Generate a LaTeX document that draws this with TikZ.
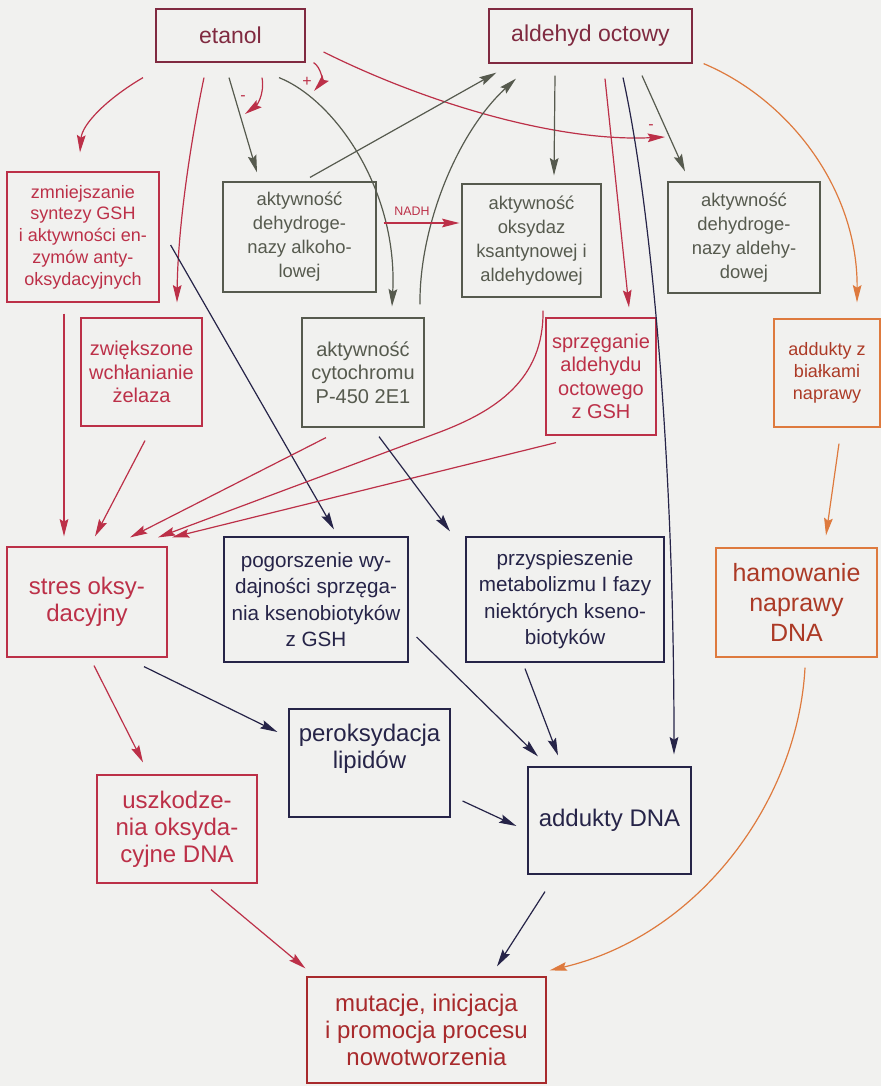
\documentclass[tikz,border=0pt]{standalone}
\usepackage{fontspec}
\setmainfont{Liberation Sans}
\usepackage{tikz}
\usetikzlibrary{arrows.meta,calc}
\definecolor{bgc}{RGB}{241,241,239}
\definecolor{maroonc}{RGB}{128,42,64}
\definecolor{redc}{RGB}{188,48,72}
\definecolor{grayc}{RGB}{86,90,78}
\definecolor{navyc}{RGB}{38,36,72}
\definecolor{orangec}{RGB}{222,122,62}
\definecolor{brownc}{RGB}{172,58,38}
\definecolor{mutc}{RGB}{168,42,44}

\begin{document}
\begin{tikzpicture}[x=0.75pt,y=0.75pt,yscale=-1,xscale=1,
  box/.style={draw,line width=0.9pt,inner sep=0pt,align=center},
  arr/.style={line width=0.9pt,-{Stealth[length=13pt,width=6.5pt,inset=2pt]}},
  fhead/.style={font=\fontsize{17.25}{20}\selectfont},
  ftop/.style={font=\fontsize{13.8}{18}\selectfont},
  fleft/.style={font=\fontsize{13.5}{16.3}\selectfont},
  fmid/.style={font=\fontsize{15}{17.6}\selectfont},
  fmidb/.style={font=\fontsize{15.5}{19.9}\selectfont},
  fbig/.style={font=\fontsize{18}{20.3}\selectfont},
  fham/.style={font=\fontsize{18.75}{22.5}\selectfont}]
%set diagram left start at 0, and has height of 1086
\fill [bgc] (0,0) rectangle (881,1086);
\useasboundingbox (0,0) rectangle (881,1086);

% Text Node
\node [box,fhead,draw=maroonc,text=maroonc,minimum width=111.75pt,minimum height=39.75pt] (etanol) at (230.5,35.5) {etanol};
% Text Node
\node [box,fhead,draw=maroonc,text=maroonc,minimum width=152.25pt,minimum height=40.5pt] (aldehyd) at (590.5,36) {aldehyd octowy};
% Text Node
\node [box,fleft,draw=redc,text=redc,minimum width=114pt,minimum height=97.5pt] (zmn) at (83,237) {zmniejszanie\\syntezy GSH\\i aktywności en-\\zymów anty-\\oksydacyjnych};
% Text Node
\node [box,ftop,draw=grayc,text=grayc,minimum width=114.75pt,minimum height=82.5pt] (adh) at (299.5,237) {aktywność\\dehydroge-\\nazy alkoho-\\lowej};
% Text Node
\node [box,ftop,draw=grayc,text=grayc,minimum width=104.25pt,minimum height=84.75pt] (oks) at (531.5,240.5) {aktywność\\oksydaz\\ksantynowej i\\aldehydowej};
% Text Node
\node [box,ftop,draw=grayc,text=grayc,minimum width=114pt,minimum height=83.25pt] (aldh) at (744,237.5) {aktywność\\dehydroge-\\nazy aldehy-\\dowej};
% Text Node
\node [box,fmid,draw=redc,text=redc,minimum width=90.75pt,minimum height=81pt] (zwi) at (141.5,372) {zwiększone\\wchłanianie\\żelaza};
% Text Node
\node [box,fmid,draw=grayc,text=grayc,minimum width=91.5pt,minimum height=81.75pt] (cyt) at (363,372.5) {aktywność\\cytochromu\\P-450 2E1};
% Text Node
\node [box,fmid,draw=redc,text=redc,minimum width=82.5pt,minimum height=87.75pt] (sprz) at (601,376.5) {sprzęganie\\aldehydu\\octowego\\z GSH};
% Text Node
\node [box,fleft,draw=orangec,text=brownc,minimum width=79.5pt,minimum height=81pt] (adb) at (827,373) {addukty z\\białkami\\naprawy};
% Text Node
\node [box,fbig,draw=redc,text=redc,minimum width=120pt,minimum height=82.5pt] (stres) at (87,602) {stres oksy-\\dacyjny};
% Text Node
\node [box,fmidb,draw=navyc,text=navyc,minimum width=138pt,minimum height=93.75pt] (pog) at (316,599.5) {pogorszenie wy-\\dajności sprzęga-\\nia ksenobiotyków\\z GSH};
% Text Node
\node [box,fmidb,draw=navyc,text=navyc,minimum width=148.5pt,minimum height=93.75pt] (prz) at (565,599.5) {przyspieszenie\\metabolizmu I fazy\\niektórych kseno-\\biotyków};
% Text Node
\node [box,fham,draw=orangec,text=brownc,minimum width=120.75pt,minimum height=81.75pt] (ham) at (796.5,602.5) {hamowanie\\naprawy\\DNA};
% Text Node
\node [box,fbig,draw=navyc,text=navyc,minimum width=120.75pt,minimum height=81pt] (per) at (369.5,763) {peroksydacja\\lipidów\\[5pt]};
% Text Node
\node [box,fbig,draw=redc,text=redc,minimum width=120pt,minimum height=81pt] (usz) at (177,829) {uszkodze-\\nia oksyda-\\cyjne DNA};
% Text Node
\node [box,fbig,draw=navyc,text=navyc,minimum width=122.25pt,minimum height=80.25pt] (add) at (609.5,820.5) {addukty DNA};
% Text Node
\node [box,fbig,draw=mutc,text=mutc,minimum width=179.25pt,minimum height=79.5pt] (mut) at (426.5,1030) {mutacje, inicjacja\\i promocja procesu\\nowotworzenia};

% Text Node
\node [text=redc,font=\fontsize{9.3}{11}\selectfont,inner sep=0.75pt] (nadh) at (412,211) {NADH};
% Text Node
\node [text=redc,font=\fontsize{12}{12}\selectfont,inner sep=0.75pt] (minA) at (243,98) {-};
% Text Node
\node [text=redc,font=\fontsize{12}{12}\selectfont,inner sep=0.75pt] (plusA) at (307,82) {+};
% Text Node
\node [text=redc,font=\fontsize{12}{12}\selectfont,inner sep=0.75pt] (minB) at (651,127) {-};
\coordinate (tipA) at (245,114);
\coordinate (tipB) at (314,91);
\coordinate (tipC) at (665,137);

%Curve Lines
\draw [arr,redc] ($(etanol.south)+(-87.5,15)$) .. controls (105,100) and (82,125) .. ($(zmn.north)+(-3,-19)$) ;
%Curve Lines
\draw [arr,redc] ($(etanol.south)+(-26.5,15)$) .. controls (193,130) and (178,220) .. ($(zwi.north)+(35.5,-15)$) ;
%Straight Lines
\draw [arr,grayc] ($(etanol.south)+(-1.5,15)$) -- ($(adh.north)+(-42.5,-9)$) ;
%Curve Lines
\draw [arr,redc] ($(etanol.south)+(31.5,15)$) .. controls (265,95) and (256,106) .. (tipA) ;
%Curve Lines
\draw [arr,redc] ($(etanol.south east)+(8,0)$) .. controls (322,68) and (322,82) .. (tipB) ;
%Curve Lines
\draw [arr,grayc] ($(etanol.south)+(48.5,15)$) .. controls (335,100) and (398,190) .. ($(cyt.north)+(29,-11)$) ;
%Curve Lines
\draw [arr,redc] ($(etanol.east)+(18,16.5)$) .. controls (430,105) and (560,142) .. (tipC) ;
%Straight Lines
\draw [arr,grayc] ($(adh.north)+(10.5,-4)$) -- ($(aldehyd.south west)+(8,9)$) ;
%Curve Lines
\draw [arr,grayc] ($(cyt.north)+(57,-13)$) .. controls (419,230) and (455,135) .. ($(aldehyd.south)+(-74.5,15)$) ;
%Straight Lines
\draw [arr,redc] ($(adh.east)+(7,-14)$) -- ($(oks.west)+(-2,-17.5)$) ;
%Straight Lines
\draw [arr,grayc] ($(aldehyd.south)+(-35.5,12)$) -- ($(oks.north)+(22.5,-8)$) ;
%Straight Lines
\draw [arr,redc] ($(aldehyd.south)+(14.5,15)$) -- ($(sprz.north)+(28,-10)$) ;
%Curve Lines
\draw [arr,navyc] ($(aldehyd.south)+(32.5,14)$) .. controls (650,200) and (674,450) .. ($(add.north)+(64.5,-12)$) ;
%Straight Lines
\draw [arr,grayc] ($(aldehyd.south)+(51.5,12)$) -- ($(aldh.north)+(-59,-10)$) ;
%Curve Lines
\draw [arr,orangec] ($(aldehyd.south east)+(11,0)$) .. controls (790,100) and (858,190) .. ($(adb.north)+(30,-16)$) ;

%Straight Lines
\draw [arr,redc] ($(zmn.south)+(-19,11)$) -- ($(stres.north)+(-23,-10)$) ;
%Straight Lines
\draw [arr,navyc] ($(zmn.east)+(11,8)$) -- ($(pog.north)+(18,-7)$) ;
%Straight Lines
\draw [arr,redc] ($(zwi.south)+(3.5,14)$) -- ($(stres.north)+(8,-10)$) ;
%Straight Lines
\draw [arr,redc] ($(cyt.south)+(-37,10)$) -- ($(stres.north)+(43,-9)$) ;
%Curve Lines
\draw [arr,redc] ($(oks.south)+(11.5,13)$) .. controls (544,380) and (495,411) .. (440,432) -- ($(stres.north)+(71,-9)$) ;
%Straight Lines
\draw [arr,redc] ($(sprz.south)+(-45,7)$) -- ($(stres.north)+(85,-9)$) ;
%Straight Lines
\draw [arr,navyc] ($(cyt.south)+(16,9)$) -- ($(prz.north)+(-115,-5)$) ;
%Straight Lines
\draw [arr,orangec] ($(adb.south)+(12,16)$) -- ($(ham.north)+(29.5,-12)$) ;

%Straight Lines
\draw [arr,redc] ($(stres.south)+(7,8)$) -- ($(usz.north)+(-34,-12)$) ;
%Straight Lines
\draw [arr,navyc] ($(stres.south)+(57,9)$) -- ($(per.west)+(-11,-31)$) ;
%Straight Lines
\draw [arr,navyc] ($(pog.east)+(8,37.5)$) -- ($(add.north)+(-71.5,-10)$) ;
%Straight Lines
\draw [arr,navyc] ($(prz.south)+(-40,6)$) -- ($(add.north)+(-51.5,-11)$) ;
%Straight Lines
\draw [arr,navyc] ($(per.east)+(12,38)$) -- ($(add.west)+(-11,5.5)$) ;
%Straight Lines
\draw [arr,redc] ($(usz.south)+(34,6)$) -- ($(mut.north west)+(-1,-8)$) ;
%Straight Lines
\draw [arr,navyc] ($(add.south)+(-64.5,17)$) -- ($(mut.north)+(70.5,-10)$) ;
%Curve Lines
\draw [arr,orangec] ($(ham.south)+(8.5,10)$) .. controls (798,800) and (700,935) .. ($(mut.north east)+(3,-6)$) ;

\end{tikzpicture}
\end{document}
